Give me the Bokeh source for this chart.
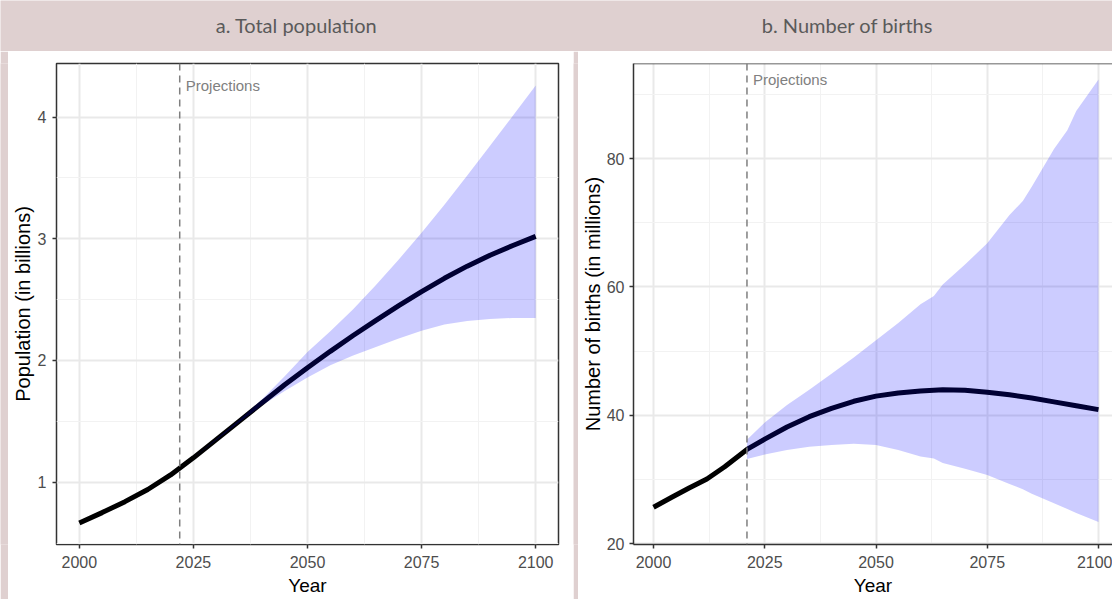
from bokeh.plotting import figure
from bokeh.models import FixedTicker, Span, Label, Range1d
from bokeh.layouts import column, row
from bokeh.embed import file_html
from bokeh.resources import INLINE

# ---------------- data ----------------
titles = ["a. Total population", "b. Number of births"]
x_ticks = [2000, 2025, 2050, 2075, 2100]
x_minor = [2012.5, 2037.5, 2062.5, 2087.5]

# panel a: total population (billions)
pop_years = [2000, 2005, 2010, 2015, 2020, 2025, 2030, 2035, 2040, 2045, 2050,
             2055, 2060, 2065, 2070, 2075, 2080, 2085, 2090, 2095, 2100]
pop_median = [0.665, 0.75, 0.84, 0.94, 1.06, 1.20, 1.35, 1.50, 1.65, 1.80, 1.94,
              2.075, 2.205, 2.33, 2.45, 2.565, 2.675, 2.775, 2.865, 2.945, 3.02]
pop_band_years = [2022, 2025, 2030, 2035, 2040, 2045, 2050, 2055, 2060, 2065,
                  2070, 2075, 2080, 2085, 2090, 2095, 2100]
pop_upper = [1.116, 1.20, 1.355, 1.51, 1.68, 1.87, 2.07, 2.24, 2.42, 2.62,
             2.83, 3.05, 3.28, 3.52, 3.765, 4.01, 4.26]
pop_lower = [1.116, 1.20, 1.345, 1.49, 1.63, 1.75, 1.86, 1.96, 2.04, 2.11,
             2.18, 2.245, 2.295, 2.325, 2.34, 2.35, 2.35]
pop_yticks = [1, 2, 3, 4]
pop_yminor = [0.5, 1.5, 2.5, 3.5]
pop_proj_year = 2022

# panel b: number of births (millions)
birth_years = [2000, 2004, 2008, 2012, 2016, 2021, 2025, 2030, 2035, 2040, 2045,
               2050, 2055, 2060, 2065, 2070, 2075, 2080, 2085, 2090, 2095, 2100]
birth_median = [25.7, 27.2, 28.7, 30.1, 32.0, 34.7, 36.3, 38.2, 39.8, 41.1, 42.2,
                43.0, 43.5, 43.8, 44.0, 43.9, 43.6, 43.2, 42.7, 42.1, 41.5, 40.9]
birth_band_years = [2021, 2025, 2030, 2035, 2040, 2045, 2050, 2055, 2060, 2063,
                    2065, 2070, 2075, 2080, 2083, 2085, 2090, 2093, 2095, 2100]
birth_upper = [36.2, 38.9, 41.6, 44.0, 46.5, 49.0, 51.7, 54.4, 57.3, 58.6,
               60.4, 63.5, 66.8, 71.2, 73.4, 75.6, 81.5, 84.4, 87.4, 92.3]
birth_lower = [33.2, 33.9, 34.6, 35.1, 35.4, 35.6, 35.4, 34.6, 33.6, 33.3,
               32.6, 31.7, 30.7, 29.3, 28.5, 27.8, 26.3, 25.4, 24.8, 23.4]
birth_yticks = [20, 40, 60, 80]
birth_yminor = [30, 50, 70, 90]
birth_proj_year = 2021

PINK = "#dfd0d0"
FONT = "Liberation Sans"
PANEL_H = 548


def style_axes(p, tick_standoff_y, standoff_y):
    p.xaxis.ticker = FixedTicker(ticks=x_ticks, minor_ticks=x_minor)
    for ax in (p.xaxis[0], p.yaxis[0]):
        ax.major_tick_in = 0
        ax.major_tick_out = 4
        ax.major_tick_line_color = "#333333"
        ax.major_tick_line_width = 1.5
        ax.minor_tick_line_color = None
        ax.major_label_text_font = FONT
        ax.major_label_text_font_size = "16px"
        ax.major_label_text_color = "#4d4d4d"
        ax.axis_label_text_font = FONT
        ax.axis_label_text_font_style = "normal"
        ax.axis_label_text_color = "black"
    p.xaxis.major_label_standoff = 7
    p.yaxis.major_label_standoff = tick_standoff_y
    p.xaxis.axis_label_text_font_size = "19px"
    p.yaxis.axis_label_text_font_size = "20px"
    p.xaxis.axis_label_standoff = 4
    p.yaxis.axis_label_standoff = standoff_y
    for g in (p.xgrid[0], p.ygrid[0]):
        g.grid_line_color = "#e9e9e9"
        g.grid_line_width = 2
        g.minor_grid_line_color = "#f2f2f2"
        g.minor_grid_line_width = 1


def make_panel(width, x_start, x_end, y_start, y_end, yticks, yminor, ylabel, years,
               med, byears, lo, hi, proj_year, mbl, mbr, mbt, mbb, tick_standoff_y,
               standoff_y, full_frame):
    p = figure(width=width, height=PANEL_H, x_range=Range1d(x_start, x_end),
               y_range=Range1d(y_start, y_end), toolbar_location=None, title=None,
               output_backend="svg", min_border_left=mbl, min_border_right=mbr,
               min_border_top=mbt, min_border_bottom=mbb,
               background_fill_color="white", border_fill_color="white")
    style_axes(p, tick_standoff_y, standoff_y)
    p.yaxis.ticker = FixedTicker(ticks=yticks, minor_ticks=yminor)
    p.yaxis.axis_label = ylabel
    p.xaxis.axis_label = "Year"
    if full_frame:
        p.outline_line_color = "#333333"
        p.outline_line_width = 1.5
        p.xaxis.axis_line_color = None
        p.yaxis.axis_line_color = None
    else:
        p.outline_line_color = None
        p.xaxis.axis_line_color = "#333333"
        p.yaxis.axis_line_color = "#333333"
        p.xaxis.axis_line_width = 1.5
        p.yaxis.axis_line_width = 1.5
        p.add_layout(Span(location=y_end, dimension="width", line_color="#333333",
                          line_width=1.5))
    p.line(years, med, line_color="black", line_width=5)
    p.varea(x=byears, y1=lo, y2=hi, fill_color="blue", fill_alpha=0.2)
    p.add_layout(Span(location=proj_year, dimension="height", line_color="#7f7f7f",
                      line_dash="7 5", line_width=1.5))
    p.add_layout(Label(x=proj_year, y=max(hi), text="Projections", x_offset=6,
                       text_baseline="middle", text_font=FONT,
                       text_font_size="15px", text_color="#808080"))
    return p


hdr = figure(width=1112, height=51, x_range=Range1d(0, 1112), y_range=Range1d(0, 51),
             toolbar_location=None, output_backend="svg", min_border=0, title=None,
             x_axis_type=None, y_axis_type=None, background_fill_color=PINK,
             border_fill_color=PINK, outline_line_color=None)
for tx, t in zip([296, 847], titles):
    hdr.add_layout(Label(x=tx, y=27, text=t, text_align="center",
                         text_baseline="middle", text_font="Lato",
                         text_font_size="20px", text_color="#5a5a5a"))


def pink_strip(w):
    return figure(width=w, height=PANEL_H, toolbar_location=None, output_backend="svg",
                  min_border=0, title=None, x_axis_type=None, y_axis_type=None,
                  background_fill_color=PINK, border_fill_color=PINK,
                  outline_line_color=None)


pa = make_panel(565, 1995, 2105, 0.488, 4.44, pop_yticks, pop_yminor,
                "Population (in billions)", pop_years, pop_median,
                pop_band_years, pop_lower, pop_upper, pop_proj_year,
                48, 15, 12, 55, 6, 1, True)
pb = make_panel(534, 1995.5, 2103.15, 19.89, 94.81, birth_yticks, birth_yminor,
                "Number of births (in millions)", birth_years, birth_median,
                birth_band_years, birth_lower, birth_upper, birth_proj_year,
                53, 0, 12, 55, 5, 0, False)

layout = column(hdr, row(pink_strip(8), pa, pink_strip(5), pb))
open("out.html", "w").write(file_html(layout, INLINE))
